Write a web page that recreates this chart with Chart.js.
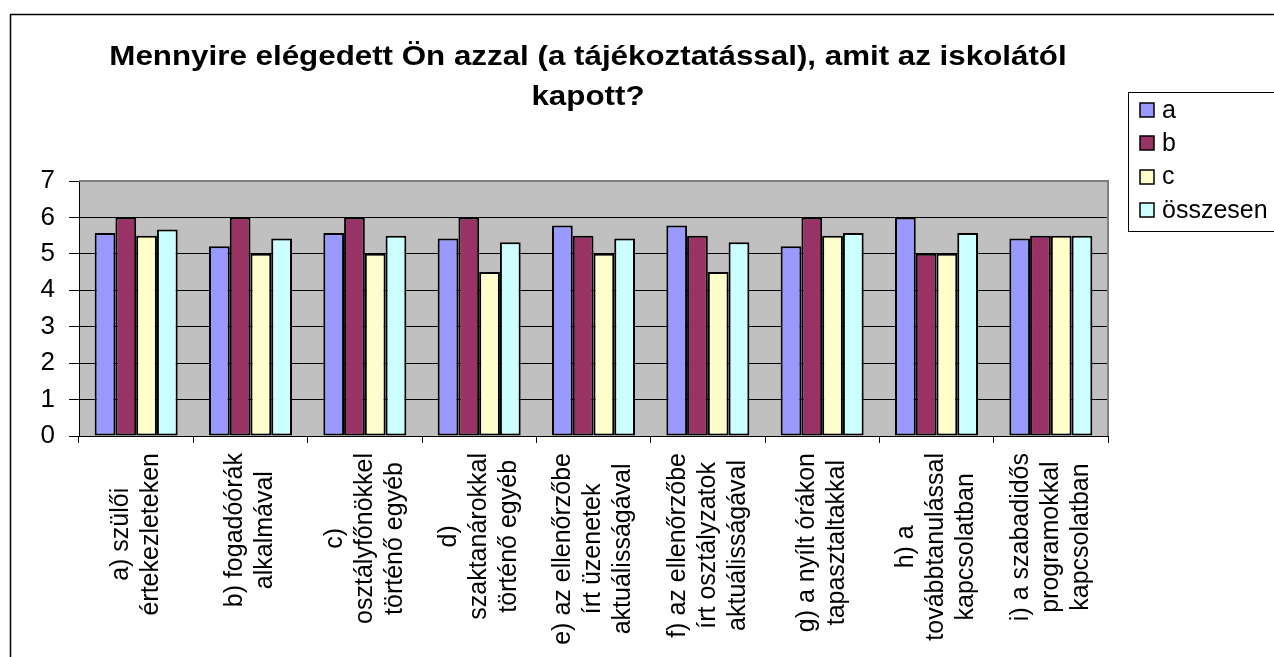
<!DOCTYPE html>
<html><head><meta charset="utf-8">
<script src="https://cdn.jsdelivr.net/npm/chart.js@4.4.1/dist/chart.umd.min.js"></script>
<style>html,body{margin:0;padding:0;background:#fff;overflow:hidden}</style>
</head><body>
<canvas id="c" width="1274" height="657"></canvas>
<script>
const titleLines = ["Mennyire elégedett Ön azzal (a tájékoztatással), amit az iskolától", "kapott?"];
const categories = [
  ["a) szülői", "értekezleteken"],
  ["b) fogadóórák", "alkalmával"],
  ["c)", "osztályfőnökkel", "történő egyéb"],
  ["d)", "szaktanárokkal", "történő egyéb"],
  ["e) az ellenőrzőbe", "írt üzenetek", "aktuálisságával"],
  ["f) az ellenőrzőbe", "írt osztályzatok", "aktuálisságával"],
  ["g) a nyílt órákon", "tapasztaltakkal"],
  ["h) a", "továbbtanulással", "kapcsolatban"],
  ["i) a szabadidős", "programokkal", "kapcsolatban"]
];
const seriesNames = ["a", "b", "c", "összesen"];
const valuesA = [5.57, 5.21, 5.57, 5.42, 5.78, 5.78, 5.21, 6.0, 5.42];
const valuesB = [6.0, 6.0, 6.0, 6.0, 5.5, 5.5, 6.0, 5.0, 5.5];
const valuesC = [5.5, 5.0, 5.0, 4.5, 5.0, 4.5, 5.5, 5.0, 5.5];
const valuesTotal = [5.67, 5.42, 5.5, 5.32, 5.42, 5.32, 5.57, 5.57, 5.5];
const yTickValues = [0, 1, 2, 3, 4, 5, 6, 7];
const seriesColors = ["#9999FF", "#993366", "#FFFFCC", "#CCFFFF"];

const FONT = 'Arial, "Liberation Sans", sans-serif';

const decor = {
  id: 'decor',
  beforeDraw(chart) {
    const ctx = chart.ctx, a = chart.chartArea;
    ctx.save();
    ctx.fillStyle = '#fff';
    ctx.fillRect(0, 0, chart.width, chart.height);
    ctx.strokeStyle = '#000';
    ctx.lineWidth = 1.5;
    ctx.strokeRect(10.5, 14.5, 1300, 700);
    ctx.fillStyle = '#C0C0C0';
    ctx.fillRect(a.left, a.top, a.right - a.left, a.bottom - a.top);
    ctx.restore();
  },
  afterDraw(chart) {
    const ctx = chart.ctx, a = chart.chartArea;
    ctx.save();
    ctx.strokeStyle = '#808080';
    ctx.lineWidth = 2;
    ctx.beginPath();
    ctx.moveTo(a.left, a.top);
    ctx.lineTo(a.right, a.top);
    ctx.lineTo(a.right, a.bottom);
    ctx.stroke();

    // title
    ctx.fillStyle = '#000';
    ctx.font = 'bold 27px ' + FONT;
    ctx.textAlign = 'center';
    ctx.textBaseline = 'middle';
    titleLines.forEach((t, i) => {
      ctx.save();
      ctx.translate(588, 58 + i * 40);
      ctx.scale(1.16, 1);
      ctx.fillText(t, 0, 0);
      ctx.restore();
    });

    // legend
    ctx.strokeStyle = '#000';
    ctx.lineWidth = 1;
    ctx.fillStyle = '#fff';
    ctx.fillRect(1128.5, 92.5, 200, 139);
    ctx.strokeRect(1128.5, 92.5, 200, 139);
    ctx.font = '25px ' + FONT;
    ctx.textAlign = 'left';
    ctx.textBaseline = 'middle';
    chart.data.datasets.forEach((ds, i) => {
      const y = 110 + i * 33.3;
      ctx.fillStyle = ds.backgroundColor;
      ctx.fillRect(1140, Math.round(y - 7), 14, 14);
      ctx.lineWidth = 1.5;
      ctx.strokeStyle = '#000';
      ctx.strokeRect(1140, Math.round(y - 7), 14, 14);
      ctx.fillStyle = '#000';
      ctx.fillText(ds.label, 1162, y + 1);
    });

    // x category labels (rotated, centered lines)
    const xs = chart.scales.x;
    ctx.font = '25px ' + FONT;
    ctx.textAlign = 'center';
    ctx.textBaseline = 'middle';
    ctx.fillStyle = '#000';
    const pitch = 30;
    chart.data.labels.forEach((lines, i) => {
      const cx = xs.getPixelForValue(i);
      const maxW = Math.max(...lines.map(l => ctx.measureText(l).width));
      const cy = a.bottom + 17 + maxW / 2;
      lines.forEach((l, k) => {
        const x = cx + (k - (lines.length - 1) / 2) * pitch;
        ctx.save();
        ctx.translate(x, cy);
        ctx.rotate(-Math.PI / 2);
        ctx.fillText(l, 0, 0);
        ctx.restore();
      });
    });
    ctx.restore();
  }
};

new Chart(document.getElementById('c'), {
  type: 'bar',
  data: {
    labels: categories,
    datasets: [
      { label: seriesNames[0], data: valuesA, backgroundColor: seriesColors[0] },
      { label: seriesNames[1], data: valuesB, backgroundColor: seriesColors[1] },
      { label: seriesNames[2], data: valuesC, backgroundColor: seriesColors[2] },
      { label: seriesNames[3], data: valuesTotal, backgroundColor: seriesColors[3] }
    ].map(d => Object.assign(d, { borderColor: '#000', borderWidth: 2, borderSkipped: false,
      categoryPercentage: 0.726, barPercentage: 1.0 }))
  },
  options: {
    responsive: false,
    animation: false,
    devicePixelRatio: 1,
    layout: { padding: { left: 0, top: 181, right: 166, bottom: 0 } },
    plugins: { legend: { display: false }, title: { display: false }, tooltip: { enabled: false } },
    scales: {
      x: {
        ticks: { display: false },
        grid: { offset: true, drawOnChartArea: false, drawTicks: true, tickLength: 7, color: '#000', tickColor: '#000' },
        border: { color: '#000', width: 1 },
        afterFit(s) { s.height = 221; }
      },
      y: {
        min: 0, max: 7,
        afterBuildTicks(s) { s.ticks = yTickValues.map(v => ({ value: v })); },
        ticks: { color: '#000', font: { family: FONT, size: 26 }, padding: 14 },
        grid: { color: (c) => (c.tick && c.tick.value === 7) ? '#808080' : '#000', tickColor: '#000', tickLength: 10, lineWidth: 1 },
        border: { color: '#000', width: 1 },
        afterFit(s) { s.width = 79; }
      }
    }
  },
  plugins: [decor]
});
</script>
</body></html>
